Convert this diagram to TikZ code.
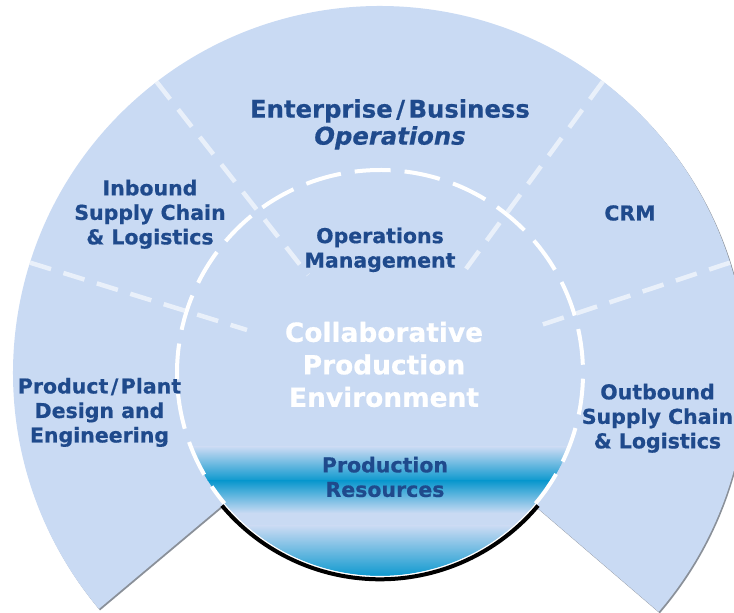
\documentclass[tikz,border=0pt]{standalone}
\usepackage{fontspec}
\setmainfont{DejaVu Sans}[BoldFeatures={FakeBold=0.6},BoldItalicFeatures={FakeBold=0.6}]
\usetikzlibrary{calc}
\definecolor{lightblue}{HTML}{C9DAF3}
\definecolor{txtblue}{HTML}{1F4A8C}
\definecolor{cyanband}{HTML}{0B98CE}
\definecolor{shadowgray}{HTML}{8A9099}
\begin{document}
\begin{tikzpicture}[x=1pt,y=1pt,
  lbl/.style={text=txtblue, font=\bfseries\fontsize{20.5}{24.5}\selectfont, align=center, inner sep=0pt},
  bigwhite/.style={text=white, font=\bfseries\fontsize{26.4}{32.5}\selectfont, align=center, inner sep=0pt},
  divider/.style={draw=white, draw opacity=0.6, line width=4.5pt, dash pattern=on 22pt off 13pt},
  ringdash/.style={draw=white, line width=4pt, dash pattern=on 36pt off 14pt},
]
\useasboundingbox (0,0) rectangle (734,613);
\coordinate (C) at (380,240);
% shadow and outer sector
\fill[shadowgray] ([shift={(1.2,-1.5)}]C) -- ++(220:367pt) arc[start angle=220,end angle=-40.6,radius=367pt] -- cycle;
\fill[lightblue] (C) -- ++(220:367pt) arc[start angle=220,end angle=-40.6,radius=367pt] -- cycle;
% inner circle with gradient
\fill[lightblue] (C) circle[radius=203pt];
\begin{scope}
  \clip (C) circle[radius=203pt];
  \shade[top color=lightblue, bottom color=cyanband] (150,132) rectangle (620,166);
  \shade[top color=cyanband, bottom color=lightblue] (150,100) rectangle (620,132.01);
  \shade[top color=lightblue, bottom color=cyanband] (150,36) rectangle (620,87);
\end{scope}
% dividers
\coordinate (d1o) at ($(C)+(127.5:367pt)$);
\coordinate (d1i) at (308,338);
\coordinate (d2o) at ($(C)+(52.6:367pt)$);
\coordinate (d2i) at (463,340);
\coordinate (d3o) at ($(C)+(162.5:367pt)$);
\coordinate (d3i) at (247,283);
\coordinate (d4o) at ($(C)+(17.5:367pt)$);
\coordinate (d4i) at (532,285);
\draw[divider] (d1o) -- (d1i);
\draw[divider] (d2o) -- (d2i);
\draw[divider] (d3o) -- (d3i);
\draw[divider] (d4o) -- (d4i);
% dashed ring and black base arc
\draw[ringdash] (C) ++(-40:203pt) arc[start angle=-40,end angle=220,radius=203pt];
\draw[white, line width=1.2pt] (C) ++(220:203.6pt) arc[start angle=220,end angle=320,radius=203.6pt];
\draw[black, line width=4pt] (C) ++(220:206.3pt) arc[start angle=220,end angle=320,radius=206.3pt];
% labels
\node[lbl, font=\bfseries\fontsize{24.3}{27}\selectfont] (ent) at (390,488.6) {Enterprise\kern3.5pt/\kern3.5pt Business\\{\itshape Operations}};
\node[lbl] (inb) at (150,398.7) {Inbound\\Supply Chain\\\& Logistics};
\node[lbl] (crm) at (630,400) {CRM};
\node[lbl] (ops) at (380,363.2) {Operations\\Management};
\node[bigwhite] (col) at (384,248.5) {Collaborative\\Production\\Environment};
\node[lbl] (prod) at (99.5,200.6) {Product\kern2.5pt/\kern2.5pt Plant\\Design and\\Engineering};
\node[lbl] (outb) at (657.5,194.7) {Outbound\\Supply Chain\\\& Logistics};
\node[lbl] (res) at (385,136) {Production\\Resources};
\end{tikzpicture}
\end{document}
